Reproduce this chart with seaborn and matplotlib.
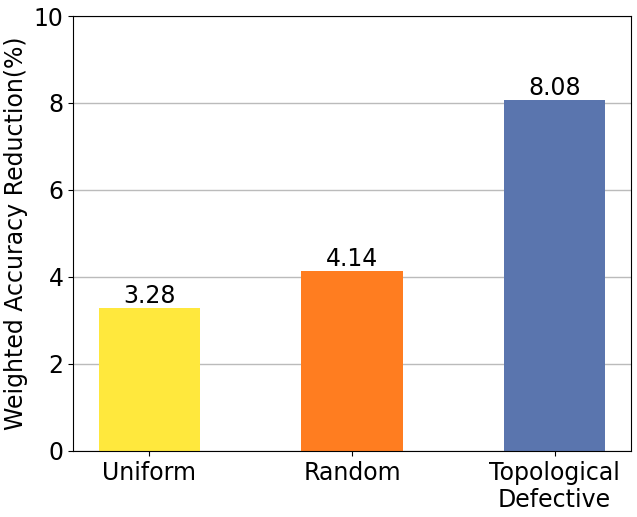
import pandas as pd
import seaborn as sns
import matplotlib.pyplot as plt

# data
methods = ['Uniform', 'Random', 'Topological\nDefective']
reduction = [3.28, 4.14, 8.08]
bar_colors = ['#FFE83D', '#FF7D20', '#5A75AE']

df = pd.DataFrame({'Method': methods, 'Reduction': reduction})

plt.rcParams['font.family'] = ['DejaVu Sans']
fig, ax = plt.subplots(figsize=(6.37, 5.17), dpi=100)

sns.barplot(x='Method', y='Reduction', data=df, hue='Method', palette=bar_colors,
            width=0.5, saturation=1, legend=False, ax=ax)

for i, v in enumerate(reduction):
    ax.text(i, v, f'{v:.2f}', ha='center', va='bottom', fontsize=17)

ax.set_ylim(0, 10)
ax.set_xlim(-0.375, 2.375)
ax.yaxis.grid(True, color='#bbbbbb', linewidth=1)
ax.set_axisbelow(True)
ax.set_xlabel('')
ax.set_ylabel('Weighted Accuracy Reduction(%)', fontsize=17)
ax.tick_params(axis='both', labelsize=17)

fig.subplots_adjust(left=0.115, right=0.99, top=0.969, bottom=0.128)
fig.savefig('out.png', dpi=100)
